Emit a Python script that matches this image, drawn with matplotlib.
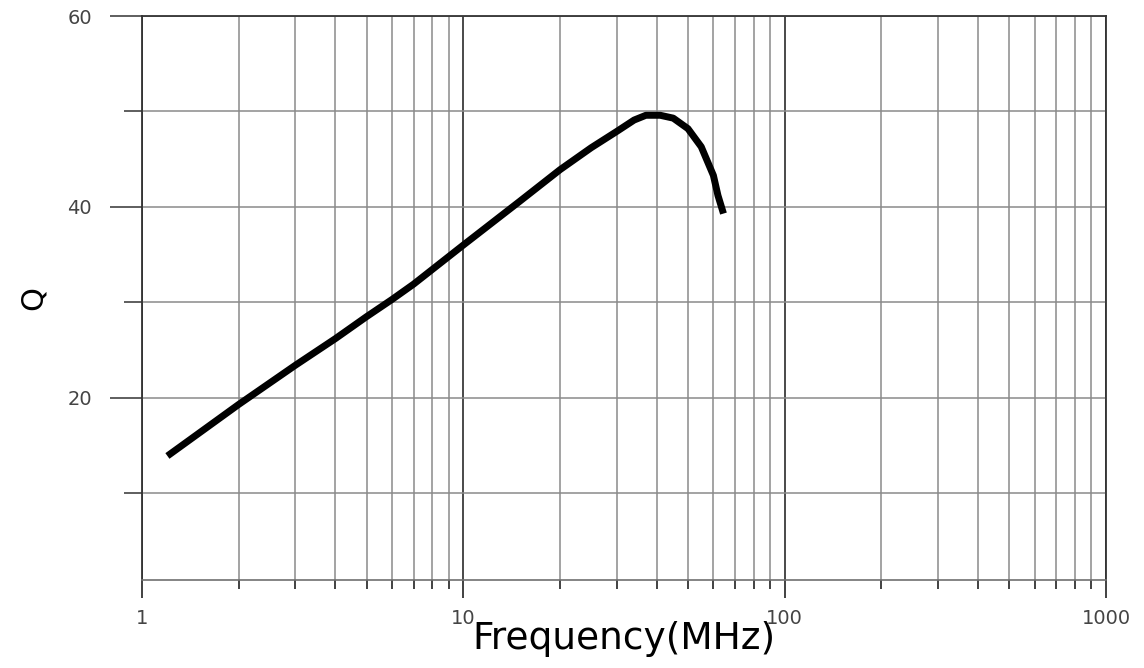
import numpy as np
import matplotlib
matplotlib.use('Agg')
import matplotlib.pyplot as plt
from matplotlib.ticker import FixedLocator, NullFormatter

# Q vs frequency
freq = [1.2, 2, 3, 4, 5, 6, 7, 10, 15, 20, 25, 30, 34, 37, 41, 45, 50, 55, 60, 62, 64.5]
q_vals = [13.9, 19.3, 23.4, 26.2, 28.5, 30.3, 31.9, 36.0, 40.6, 43.9, 46.2, 47.9, 49.1, 49.6, 49.6, 49.3, 48.2, 46.3, 43.3, 41.2, 39.3]

x_major = [1, 10, 100, 1000]
x_major_labels = ['1', '10', '100', '1000']
x_minor = [m * d for d in [1, 10, 100] for m in range(2, 10)]
y_major = [20, 40, 60]
y_minor = [10, 30, 50]

plt.rcParams['font.family'] = ['DejaVu Sans']

fig = plt.figure(figsize=(11.44, 6.68), dpi=100)
ax = fig.add_axes([0.1241, 0.1317, 0.8427, 0.8443])

ax.set_xscale('log')
ax.set_xlim(1, 1000)
ax.set_ylim(0.9, 60)

# grid: light gray minors, dark majors on x
for x in x_minor:
    ax.axvline(x, color='#8a8a8a', lw=1.1, zorder=1)
for x in x_major:
    ax.axvline(x, color='#3a3a3a', lw=1.3, zorder=1)
for y in y_major + y_minor:
    ax.axhline(y, color='#8a8a8a', lw=1.1, zorder=1)

ax.plot(freq, q_vals, color='black', lw=5, solid_capstyle='butt',
        solid_joinstyle='round', zorder=3)

ax.xaxis.set_major_locator(FixedLocator(x_major))
ax.xaxis.set_minor_locator(FixedLocator(x_minor))
ax.set_xticklabels(x_major_labels)
ax.xaxis.set_minor_formatter(NullFormatter())
ax.yaxis.set_major_locator(FixedLocator(y_major))
ax.yaxis.set_minor_locator(FixedLocator(y_minor))
ax.set_yticklabels([str(v) for v in y_major])

ax.tick_params(axis='x', which='major', length=13, width=1.3, color='#333333',
               pad=8, labelsize=14, labelcolor='#444444')
ax.tick_params(axis='x', which='minor', length=6.5, width=1.3, color='#333333')
ax.tick_params(axis='y', which='major', length=23, width=1.1, color='#333333',
               pad=13, labelsize=14, labelcolor='#444444')
ax.tick_params(axis='y', which='minor', length=13, width=1.1, color='#333333')

for side in ['left', 'top', 'right']:
    ax.spines[side].set_color('#333333')
    ax.spines[side].set_linewidth(1.3)
ax.spines['bottom'].set_color('#707070')
ax.spines['bottom'].set_linewidth(1.2)

ax.set_xlabel('Frequency(MHz)', fontsize=27, labelpad=-5)
ax.set_ylabel('Q', fontsize=22, labelpad=14)

fig.savefig('out.png', dpi=100)
